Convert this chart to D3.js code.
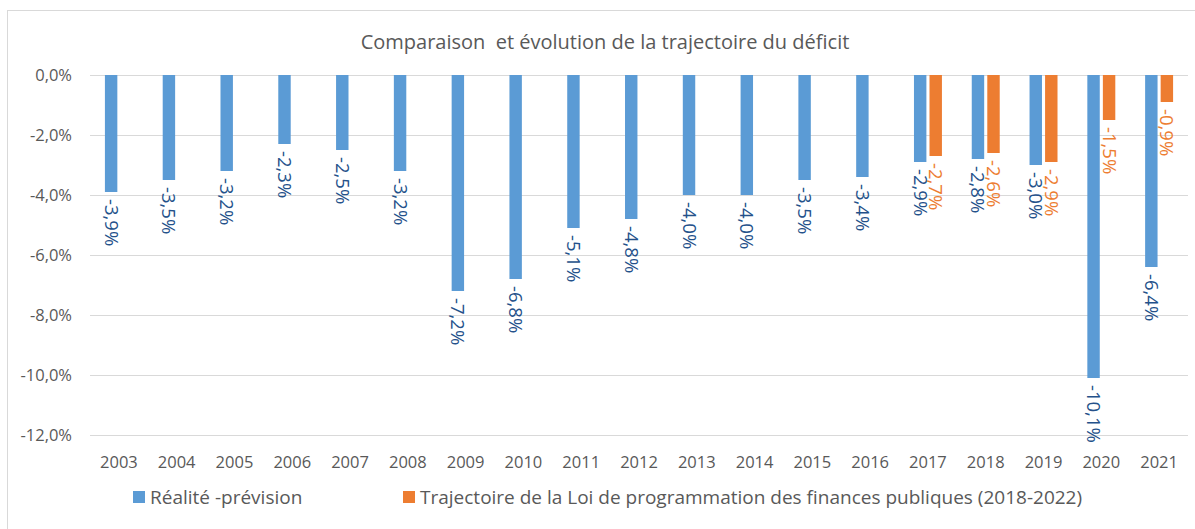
<!DOCTYPE html>
<html>
<head>
<meta charset="utf-8">
<script src="https://cdn.jsdelivr.net/npm/d3@7"></script>
<style>
  body { margin: 0; background: #fff; }
  text { font-family: "Open Sans", sans-serif; }
</style>
</head>
<body>
<div id="chart"></div>
<script>
// Data
const years = ['2003', '2004', '2005', '2006', '2007', '2008', '2009', '2010', '2011', '2012',
    '2013', '2014', '2015', '2016', '2017', '2018', '2019', '2020', '2021'];
const realite = [-3.9, -3.5, -3.2, -2.3, -2.5, -3.2, -7.2, -6.8, -5.1, -4.8,
    -4.0, -4.0, -3.5, -3.4, -2.9, -2.8, -3.0, -10.1, -6.4];
const trajectoire = [null, null, null, null, null, null, null, null, null, null,
    null, null, null, null, -2.7, -2.6, -2.9, -1.5, -0.9];
const yTicks = [0, -2, -4, -6, -8, -10, -12];
const seriesNames = ['Réalité -prévision', 'Trajectoire de la Loi de programmation des finances publiques (2018-2022)'];

const WIDTH = 1195;
const HEIGHT = 529;
const BLUE = '#5B9BD5';
const ORANGE = '#ED7D31';
const TEXT_GREY = '#595959';

const locale = d3.formatLocale({ decimal: ',', thousands: ' ', grouping: [3], currency: ['', '€'], minus: '-' });
const fmt = locale.format('.1f');

const svg = d3.select('#chart')
    .append('svg')
    .attr('width', WIDTH)
    .attr('height', HEIGHT);

// Chart border
svg.append('rect')
    .attr('x', 7.5)
    .attr('y', 10.5)
    .attr('width', 1200)
    .attr('height', 530)
    .attr('fill', '#fff')
    .attr('stroke', '#d9d9d9');

// Title
svg.append('text')
    .attr('x', 605)
    .attr('y', 49)
    .attr('text-anchor', 'middle')
    .attr('font-size', 20)
    .attr('fill', TEXT_GREY)
    .style('white-space', 'pre')
    .text('Comparaison  et évolution de la trajectoire du déficit');

// Scales
const xScale = d3.scaleBand()
    .domain(years)
    .range([90, 1188]);

const xSub = d3.scaleBand()
    .domain([0, 1])
    .range([0, xScale.bandwidth()])
    .paddingInner(0.2)
    .paddingOuter(0.96);

const yScale = d3.scaleLinear()
    .domain([-12, 0])
    .range([435, 75]);

// Gridlines
svg.selectAll('.grid')
    .data(yTicks)
    .enter()
    .append('line')
    .attr('x1', 90)
    .attr('x2', 1188)
    .attr('y1', d => Math.round(yScale(d)) + 0.5)
    .attr('y2', d => Math.round(yScale(d)) + 0.5)
    .attr('stroke', '#d9d9d9');

// Y axis
const yAxis = svg.append('g')
    .attr('transform', 'translate(76,0)')
    .call(d3.axisLeft(yScale).tickValues(yTicks).tickSize(0).tickPadding(4).tickFormat(d => fmt(d) + '%'));
yAxis.select('.domain').remove();
yAxis.selectAll('text')
    .attr('font-family', '"Open Sans", sans-serif')
    .attr('font-size', 16.5)
    .attr('fill', TEXT_GREY);

// X axis labels
svg.selectAll('.year')
    .data(years)
    .enter()
    .append('text')
    .attr('x', d => xScale(d) + xScale.bandwidth() / 2)
    .attr('y', 468)
    .attr('text-anchor', 'middle')
    .attr('font-size', 16.5)
    .attr('fill', TEXT_GREY)
    .text(d => d);

// Bars
const series = [
    { values: realite, color: BLUE, labelColor: '#24518a' },
    { values: trajectoire, color: ORANGE, labelColor: ORANGE }
];

series.forEach((s, si) => {
    const pts = years.map((y, i) => ({ year: y, v: s.values[i] })).filter(d => d.v !== null);

    svg.selectAll('.bar' + si)
        .data(pts)
        .enter()
        .append('rect')
        .attr('x', d => xScale(d.year) + xSub(si))
        .attr('y', yScale(0))
        .attr('width', xSub.bandwidth())
        .attr('height', d => yScale(d.v) - yScale(0))
        .attr('fill', s.color);

    svg.selectAll('.lab' + si)
        .data(pts)
        .enter()
        .append('text')
        .attr('transform', d => {
            const x = xScale(d.year) + xSub(si) + xSub.bandwidth() / 2;
            const y = yScale(d.v) + 7;
            return `translate(${x},${y}) rotate(90)`;
        })
        .attr('dy', '0.35em')
        .attr('font-size', 18.5)
        .attr('fill', s.labelColor)
        .text(d => fmt(d.v) + '%');
});

// Legend
const legend = [
    { name: seriesNames[0], color: BLUE, x: 133 },
    { name: seriesNames[1], color: ORANGE, x: 403 }
];
legend.forEach(l => {
    svg.append('rect')
        .attr('x', l.x)
        .attr('y', 491)
        .attr('width', 12)
        .attr('height', 12)
        .attr('fill', l.color);
    svg.append('text')
        .attr('x', l.x + 17)
        .attr('y', 497)
        .attr('dy', '0.35em')
        .attr('font-size', 19)
        .attr('fill', TEXT_GREY)
        .text(l.name);
});
</script>
</body>
</html>
